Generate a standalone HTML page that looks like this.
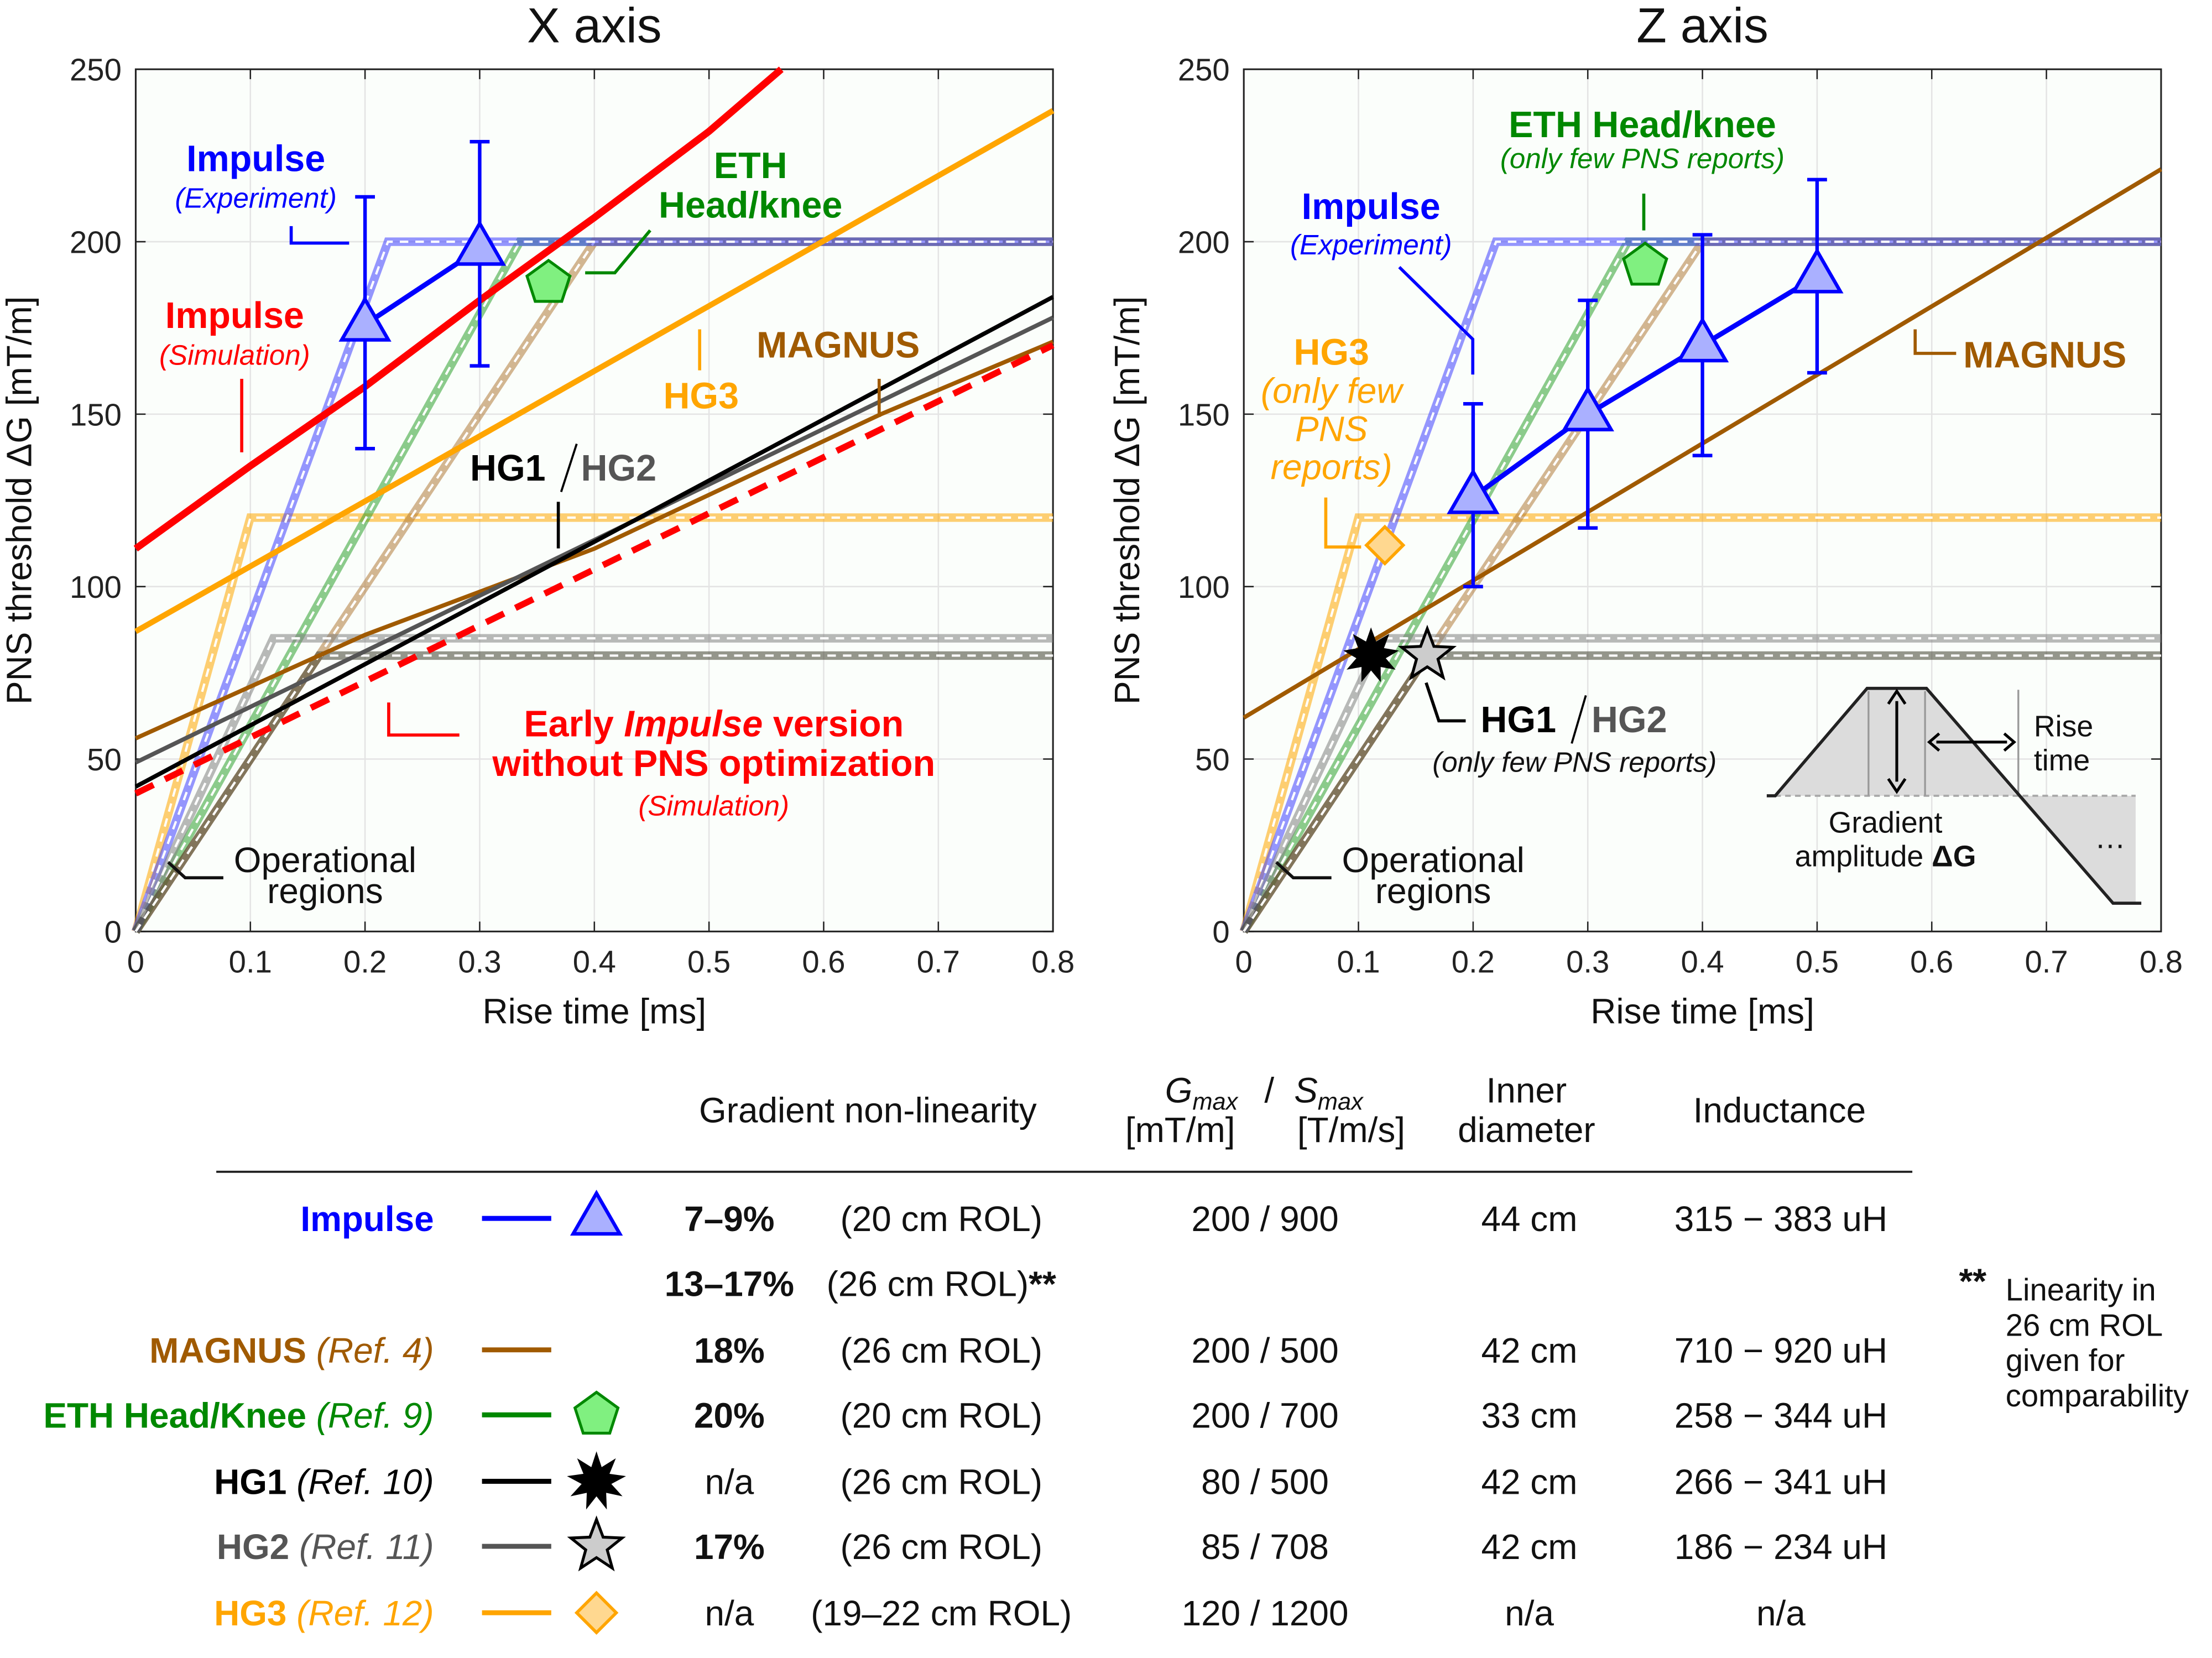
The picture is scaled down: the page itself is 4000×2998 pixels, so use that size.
<!DOCTYPE html>
<html><head><meta charset="utf-8"><title>PNS threshold chart</title>
<style>
html,body{margin:0;padding:0;background:#fff;}
svg{display:block;font-family:"Liberation Sans",Arial,sans-serif;}
</style></head>
<body>
<svg id="chart" xmlns="http://www.w3.org/2000/svg" width="4000" height="2998" viewBox="0 0 1565 1173">
<rect x="0" y="0" width="1565" height="1173" fill="#fff"/>
</svg>
<script>
// ---------- data ----------
const xTicks = [0, 0.1, 0.2, 0.3, 0.4, 0.5, 0.6, 0.7, 0.8];
const xTickLabels = ["0", "0.1", "0.2", "0.3", "0.4", "0.5", "0.6", "0.7", "0.8"];
const yTicks = [0, 50, 100, 150, 200, 250];
const yTickLabels = ["0", "50", "100", "150", "200", "250"];

// operational regions: [rise time to plateau, plateau amplitude]
const opNames = ["HG3", "ETH", "MAGNUS", "Impulse", "HG2", "HG1"];
const opRise = [0.1, 0.335, 0.4, 0.22, 0.12, 0.16];
const opAmp = [120, 200, 200, 200, 85, 80];

// X axis curves (rise time, threshold)
const xImpulseSimT = [0, 0.1, 0.2, 0.3, 0.4, 0.5, 0.563];
const xImpulseSimG = [111, 135, 158, 183, 207, 232, 250];
const xHG3T = [0, 0.8];
const xHG3G = [87, 238];
const xMagnusT = [0, 0.2, 0.4, 0.65, 0.8];
const xMagnusG = [56, 86, 111, 150, 171];
const xHG2T = [0, 0.8];
const xHG2G = [49, 178];
const xHG1T = [0, 0.8];
const xHG1G = [42, 184];
const xEarlyT = [0, 0.8];
const xEarlyG = [40, 170];
const xExpT = [0.2, 0.3];
const xExpG = [176, 198];
const xExpLo = [140, 164];
const xExpHi = [213, 229];
const xEthPoint = [0.36, 188];

// Z axis
const zMagnusT = [0, 0.8];
const zMagnusG = [62, 221];
const zExpT = [0.2, 0.3, 0.4, 0.5];
const zExpG = [126, 150, 170, 190];
const zExpLo = [100, 117, 138, 162];
const zExpHi = [153, 183, 202, 218];
const zEthPoint = [0.35, 193];
const zHG3Point = [0.123, 112];
const zHG1Point = [0.111, 80];
const zHG2Point = [0.16, 80];

// ---------- helpers ----------
const NS = "http://www.w3.org/2000/svg";
const svg = document.getElementById("chart");
function el(tag, attrs, parent, text) {
  const e = document.createElementNS(NS, tag);
  for (const k in attrs) e.setAttribute(k, attrs[k]);
  if (text !== undefined) e.textContent = text;
  (parent || svg).appendChild(e);
  return e;
}
const PY0 = 659, PYS = 2.44, PW = 649;
function mkAxes(x0) {
  return { px: t => x0 + t / 0.8 * PW, py: g => PY0 - g * PYS };
}
const colors = { HG3: "#ffa500", Impulse: "#4040ff", ETH: "#30a030", MAGNUS: "#b07a3a", HG2: "#808080", HG1: "#404030" };

function drawPanel(x0, title, panelName) {
  const ax = mkAxes(x0);
  const g = el("g", {}, svg);
  
  
  const bg = el("rect", { x: x0, y: ax.py(250), width: PW, height: 250 * PYS, fill: "#fbfefb" }, g);
  
  
  xTicks.forEach((t, i) => {
    const gl = el("line", { x1: ax.px(t), x2: ax.px(t), y1: ax.py(0), y2: ax.py(250), stroke: "#e4e4e4", "stroke-width": 1 }, g);
    
    
    el("line", { x1: ax.px(t), x2: ax.px(t), y1: ax.py(0), y2: ax.py(0) - 7, stroke: "#222", "stroke-width": 1 }, g);
    el("line", { x1: ax.px(t), x2: ax.px(t), y1: ax.py(250), y2: ax.py(250) + 7, stroke: "#222", "stroke-width": 1 }, g);
    const tl = el("text", { x: ax.px(t), y: 688, "font-size": 22, "text-anchor": "middle", fill: "#222" }, g, xTickLabels[i]);
    
    
  });
  yTicks.forEach((v, i) => {
    const gl = el("line", { x1: x0, x2: x0 + PW, y1: ax.py(v), y2: ax.py(v), stroke: "#e4e4e4", "stroke-width": 1 }, g);
    
    
    el("line", { x1: x0, x2: x0 + 7, y1: ax.py(v), y2: ax.py(v), stroke: "#222" }, g);
    el("line", { x1: x0 + PW, x2: x0 + PW - 7, y1: ax.py(v), y2: ax.py(v), stroke: "#222" }, g);
    const tl = el("text", { x: x0 - 10, y: ax.py(v) + 8, "font-size": 22, "text-anchor": "end", fill: "#222" }, g, yTickLabels[i]);
    
    
  });
  const fr = el("rect", { x: x0, y: ax.py(250), width: PW, height: 250 * PYS, fill: "none", stroke: "#222", "stroke-width": 1.2 }, g);
  
  
  const tt = el("text", { x: x0 + PW / 2, y: 30, "font-size": 35, "text-anchor": "middle", fill: "#111" }, g, title);
  
  
  const xl = el("text", { x: x0 + PW / 2, y: 724, "font-size": 25, "text-anchor": "middle", fill: "#111" }, g, "Rise time [ms]");
  
  
  const yl = el("text", { x: 0, y: 0, "font-size": 25, "text-anchor": "middle", fill: "#111", transform: `translate(${x0 - 74},${ax.py(125)}) rotate(-90)` }, g, "PNS threshold ΔG [mT/m]");
  
  
  // operational regions
  opNames.forEach((n, i) => {
    const pts = `${ax.px(0)},${ax.py(0)} ${ax.px(opRise[i])},${ax.py(opAmp[i])} ${ax.px(0.8)},${ax.py(opAmp[i])}`;
    const o = el("polyline", { points: pts, fill: "none", stroke: colors[n], "stroke-width": 6, "stroke-opacity": 0.55 }, g);
    
    
    el("polyline", { points: pts, fill: "none", stroke: "#fff", "stroke-width": 1.6, "stroke-dasharray": "6 5" }, g);
  });
  return { ax, g };
}
function line(ax, g, ts, gs, color, w, name, dash) {
  const pts = ts.map((t, i) => ax.px(t) + "," + ax.py(gs[i])).join(" ");
  const a = { points: pts, fill: "none", stroke: color, "stroke-width": w, "stroke-linejoin": "round" };
  if (dash) a["stroke-dasharray"] = dash;
  const p = el("polyline", a, g);
  
  
  return p;
}
function triangle(cx, cy, s, parent, name) {
  const h = s * 0.87;
  const p = el("polygon", { points: `${cx},${cy - h * 0.62} ${cx - s / 2},${cy + h * 0.38} ${cx + s / 2},${cy + h * 0.38}`, fill: "#aab0ff", stroke: "#0000ff", "stroke-width": 2.5, "stroke-linejoin": "miter" }, parent);
  
  
}
function pentagon(cx, cy, r, parent, name) {
  const pts = [];
  for (let k = 0; k < 5; k++) { const a = -Math.PI / 2 + k * 2 * Math.PI / 5; pts.push((cx + r * Math.cos(a)) + "," + (cy + r * Math.sin(a))); }
  const p = el("polygon", { points: pts.join(" "), fill: "#80f080", stroke: "#008800", "stroke-width": 2 }, parent);
  
  
}
function diamond(cx, cy, r, parent, name) {
  const p = el("polygon", { points: `${cx},${cy - r} ${cx + r},${cy} ${cx},${cy + r} ${cx - r},${cy}`, fill: "#ffd890", stroke: "#ffa500", "stroke-width": 2.2 }, parent);
  
  
}
function star(cx, cy, ro, ri, n, fill, parent, name) {
  const pts = [];
  for (let k = 0; k < 2 * n; k++) { const r = k % 2 ? ri : ro; const a = -Math.PI / 2 + k * Math.PI / n; pts.push((cx + r * Math.cos(a)).toFixed(1) + "," + (cy + r * Math.sin(a)).toFixed(1)); }
  const p = el("polygon", { points: pts.join(" "), fill: fill, stroke: "#000", "stroke-width": 2 }, parent);
  
  
}
function errbars(ax, g, ts, lo, hi) {
  ts.forEach((t, i) => {
    const x = ax.px(t);
    const e = el("path", { d: `M${x},${ax.py(lo[i])}V${ax.py(hi[i])}M${x - 7},${ax.py(lo[i])}H${x + 7}M${x - 7},${ax.py(hi[i])}H${x + 7}`, stroke: "#0000ff", "stroke-width": 2.5, fill: "none" }, g);
    
    
  });
}
function txt(x, y, s, size, color, opts, parent, name) {
  const a = Object.assign({ x: x, y: y, "font-size": size, fill: color, "text-anchor": "middle" }, opts || {});
  const t = el("text", a, parent || svg, s);
  
  
  return t;
}
function lead(d, color, parent, w) {
  const p = el("path", { d: d, stroke: color, "stroke-width": w || 2.2, fill: "none" }, parent || svg);
  
  
}

// ---------- X panel ----------
const L = drawPanel(96, "X axis", "x-axis-panel");
line(L.ax, L.g, xMagnusT, xMagnusG, "#a05a00", 3, "magnus-line");
line(L.ax, L.g, xHG2T, xHG2G, "#555", 3, "hg2-line");
line(L.ax, L.g, xHG1T, xHG1G, "#000", 3, "hg1-line");
line(L.ax, L.g, xEarlyT, xEarlyG, "#ff0000", 4.5, "early-impulse-line", "14 9");
line(L.ax, L.g, xHG3T, xHG3G, "#ffa500", 4, "hg3-line");
line(L.ax, L.g, xImpulseSimT, xImpulseSimG, "#ff0000", 5, "impulse-simulation-line");
line(L.ax, L.g, xExpT, xExpG, "#0000ff", 3.5, "impulse-experiment-line");
errbars(L.ax, L.g, xExpT, xExpLo, xExpHi);
xExpT.forEach((t, i) => triangle(L.ax.px(t), L.ax.py(xExpG[i]), 33, L.g, "impulse-experiment-point"));
pentagon(L.ax.px(xEthPoint[0]), L.ax.py(xEthPoint[1]), 16, L.g, "eth-point");

txt(181, 121, "Impulse", 26, "#0000ff", { "font-weight": "bold" }, L.g, "impulse-experiment-label");
txt(181, 147, "(Experiment)", 20, "#0000ff", { "font-style": "italic" }, L.g, "impulse-experiment-sublabel");
lead("M206,160V172H247", "#0000ff", L.g);
txt(166, 232, "Impulse", 26, "#ff0000", { "font-weight": "bold" }, L.g, "impulse-simulation-label");
txt(166, 258, "(Simulation)", 20, "#ff0000", { "font-style": "italic" }, L.g, "impulse-simulation-sublabel");
lead("M171,268V320", "#ff0000", L.g);
txt(531, 126, "ETH", 26, "#008800", { "font-weight": "bold" }, L.g, "eth-label");
txt(531, 154, "Head/knee", 26, "#008800", { "font-weight": "bold" }, L.g, "eth-sublabel");
lead("M460,163L435,193H414", "#008800", L.g);
txt(593, 253, "MAGNUS", 26, "#a05a00", { "font-weight": "bold" }, L.g, "magnus-label");
lead("M622,268V295", "#a05a00", L.g);
txt(496, 289, "HG3", 26, "#ffa500", { "font-weight": "bold" }, L.g, "hg3-label");
lead("M495,233V262", "#ffa500", L.g);
txt(386, 340, "HG1", 26, "#000", { "font-weight": "bold", "text-anchor": "end" }, L.g, "hg1-label");
txt(411, 340, "HG2", 26, "#555", { "font-weight": "bold", "text-anchor": "start" }, L.g, "hg2-label");
lead("M408,314L397,348", "#000", L.g, 1.5);
lead("M395,355V388", "#000", L.g);
txt(505, 521, "Early ", 26, "#ff0000", { "font-weight": "bold" }, L.g, "early-impulse-label").innerHTML = 'Early <tspan font-style="italic">Impulse</tspan> version';
txt(505, 549, "without PNS optimization", 26, "#ff0000", { "font-weight": "bold" }, L.g, "early-impulse-label-2");
txt(505, 577, "(Simulation)", 20, "#ff0000", { "font-style": "italic" }, L.g, "early-impulse-sublabel");
lead("M275,497V520H325", "#ff0000", L.g);
txt(230, 617, "Operational", 25, "#111", {}, L.g, "operational-regions-label");
txt(230, 639, "regions", 25, "#111", {}, L.g, "operational-regions-label-2");
lead("M119,610L131,621H158", "#111", L.g);

// ---------- Z panel ----------
const R = drawPanel(880, "Z axis", "z-axis-panel");
line(R.ax, R.g, zMagnusT, zMagnusG, "#a05a00", 3, "magnus-line");
line(R.ax, R.g, zExpT, zExpG, "#0000ff", 3.5, "impulse-experiment-line");
errbars(R.ax, R.g, zExpT, zExpLo, zExpHi);
zExpT.forEach((t, i) => triangle(R.ax.px(t), R.ax.py(zExpG[i]), 33, R.g, "impulse-experiment-point"));
pentagon(R.ax.px(zEthPoint[0]), R.ax.py(zEthPoint[1]), 16, R.g, "eth-point");
diamond(R.ax.px(zHG3Point[0]), R.ax.py(zHG3Point[1]), 13, R.g, "hg3-point");
star(R.ax.px(zHG1Point[0]), R.ax.py(zHG1Point[1]), 17, 9, 9, "#000", R.g, "hg1-point");
star(R.ax.px(zHG2Point[0]), R.ax.py(zHG2Point[1]), 19, 8, 5, "#ccc", R.g, "hg2-point");

txt(970, 155, "Impulse", 26, "#0000ff", { "font-weight": "bold" }, R.g, "impulse-experiment-label");
txt(970, 180, "(Experiment)", 20, "#0000ff", { "font-style": "italic" }, R.g, "impulse-experiment-sublabel");
lead("M990,189L1042,240V265", "#0000ff", R.g);
txt(1162, 97, "ETH Head/knee", 26, "#008800", { "font-weight": "bold" }, R.g, "eth-label");
txt(1162, 119, "(only few PNS reports)", 20, "#008800", { "font-style": "italic" }, R.g, "eth-sublabel");
lead("M1163,137V163", "#008800", R.g);
txt(942, 258, "HG3", 26, "#ffa500", { "font-weight": "bold" }, R.g, "hg3-label");
txt(942, 285, "(only few", 25, "#ffa500", { "font-style": "italic" }, R.g, "hg3-sublabel-1");
txt(942, 312, "PNS", 25, "#ffa500", { "font-style": "italic" }, R.g, "hg3-sublabel-2");
txt(942, 339, "reports)", 25, "#ffa500", { "font-style": "italic" }, R.g, "hg3-sublabel-3");
lead("M938,352V387H963", "#ffa500", R.g);
txt(1389, 260, "MAGNUS", 26, "#a05a00", { "font-weight": "bold", "text-anchor": "start" }, R.g, "magnus-label");
lead("M1355,233V250H1384", "#a05a00", R.g);
txt(1101, 518, "HG1", 26, "#000", { "font-weight": "bold", "text-anchor": "end" }, R.g, "hg1-label");
txt(1126, 518, "HG2", 26, "#555", { "font-weight": "bold", "text-anchor": "start" }, R.g, "hg2-label");
lead("M1122,492L1112,526", "#000", R.g, 1.5);
txt(1114, 546, "(only few PNS reports)", 20, "#111", { "font-style": "italic" }, R.g, "hg-sublabel");
lead("M1009,483L1018,510H1037", "#000", R.g);
txt(1014, 617, "Operational", 25, "#111", {}, R.g, "operational-regions-label");
txt(1014, 639, "regions", 25, "#111", {}, R.g, "operational-regions-label-2");
lead("M903,610L915,621H942", "#111", R.g);

// inset trapezoid
const inset = el("g", {}, R.g);


el("polygon", { points: "1256,563 1321,487 1363,487 1427,563", fill: "#dcdcdc" }, inset);
el("polygon", { points: "1427,563 1511,563 1511,639 1495,639", fill: "#dcdcdc" }, inset);
el("line", { x1: 1256, y1: 563, x2: 1511, y2: 563, stroke: "#aaa", "stroke-width": 1.5, "stroke-dasharray": "4 3" }, inset);
el("line", { x1: 1322, y1: 489, x2: 1322, y2: 563, stroke: "#999", "stroke-width": 1.3 }, inset);
el("line", { x1: 1362, y1: 489, x2: 1362, y2: 563, stroke: "#999", "stroke-width": 1.3 }, inset);
el("line", { x1: 1428, y1: 488, x2: 1428, y2: 563, stroke: "#999", "stroke-width": 1.3 }, inset);
el("polyline", { points: "1250,563 1256,563 1321,487 1363,487 1495,639 1515,639", fill: "none", stroke: "#222", "stroke-width": 2.2 }, inset);
el("path", { d: "M1342,496V553M1336,498L1342,489L1348,498M1336,551L1342,560L1348,551", stroke: "#000", "stroke-width": 2, fill: "none" }, inset);
el("path", { d: "M1370,525H1420M1372,519L1365,525L1372,531M1418,519L1425,525L1418,531", stroke: "#000", "stroke-width": 2, fill: "none" }, inset);
txt(1439, 521, "Rise", 21, "#111", { "text-anchor": "start" }, inset, "rise-time-label");
txt(1439, 545, "time", 21, "#111", { "text-anchor": "start" }, inset, "rise-time-label-2");
txt(1334, 589, "Gradient", 21, "#111", {}, inset, "gradient-amplitude-label");
txt(1334, 613, "amplitude ", 21, "#111", {}, inset, "gradient-amplitude-label-2").innerHTML = 'amplitude <tspan font-weight="bold">ΔG</tspan>';
txt(1493, 600, "…", 22, "#111", {}, inset, "ellipsis");

// ---------- table ----------
const tb = el("g", {}, svg);


txt(614, 794, "Gradient non-linearity", 25, "#111", {}, tb, "header-nonlinearity");
txt(850, 780, "", 25, "#111", {}, tb, "header-gmax").innerHTML = '<tspan font-style="italic">G</tspan><tspan font-style="italic" font-size="17" dy="5">max</tspan>';
txt(898, 780, "/", 25, "#111", {}, tb, "header-slash");
txt(940, 780, "", 25, "#111", {}, tb, "header-smax").innerHTML = '<tspan font-style="italic">S</tspan><tspan font-style="italic" font-size="17" dy="5">max</tspan>';
txt(835, 808, "[mT/m]", 25, "#111", {}, tb, "header-gmax-unit");
txt(956, 808, "[T/m/s]", 25, "#111", {}, tb, "header-smax-unit");
txt(1080, 780, "Inner", 25, "#111", {}, tb, "header-diameter");
txt(1080, 808, "diameter", 25, "#111", {}, tb, "header-diameter-2");
txt(1259, 794, "Inductance", 25, "#111", {}, tb, "header-inductance");
el("line", { x1: 153, y1: 829, x2: 1353, y2: 829, stroke: "#222", "stroke-width": 1.5 }, tb);

const rowY = [862, 955, 1001, 1048, 1094, 1141];
const rowName = ["Impulse", "MAGNUS", "ETH Head/Knee", "HG1", "HG2", "HG3"];
const rowRef = ["", "(Ref. 4)", "(Ref. 9)", "(Ref. 10)", "(Ref. 11)", "(Ref. 12)"];
const rowColor = ["#0000ff", "#a05a00", "#008800", "#000", "#555", "#ffa500"];
const rowNL = ["7–9%", "18%", "20%", "n/a", "17%", "n/a"];
const rowROL = ["(20 cm ROL)", "(26 cm ROL)", "(20 cm ROL)", "(26 cm ROL)", "(26 cm ROL)", "(19–22 cm ROL)"];
const rowGS = ["200 / 900", "200 / 500", "200 / 700", "80 / 500", "85 / 708", "120 / 1200"];
const rowDia = ["44 cm", "42 cm", "33 cm", "42 cm", "42 cm", "n/a"];
const rowInd = ["315 − 383 uH", "710 − 920 uH", "258 − 344 uH", "266 − 341 uH", "186 − 234 uH", "n/a"];
rowY.forEach((y, i) => {
  const t = txt(307, y + 9, "", 25, rowColor[i], { "text-anchor": "end" }, tb, "row-name");
  t.innerHTML = `<tspan font-weight="bold">${rowName[i]}</tspan>` + (rowRef[i] ? ` <tspan font-style="italic">${rowRef[i]}</tspan>` : "");
  const ln = el("line", { x1: 341, x2: 390, y1: y, y2: y, stroke: rowColor[i], "stroke-width": 3.5 }, tb);
  
  
  txt(516, y + 9, rowNL[i], 25, "#111", { "font-weight": rowNL[i] === "n/a" ? "normal" : "bold" }, tb, "row-nonlinearity");
  txt(666, y + 9, rowROL[i], 25, "#111", {}, tb, "row-rol");
  txt(895, y + 9, rowGS[i], 25, "#111", {}, tb, "row-gmax-smax");
  txt(1082, y + 9, rowDia[i], 25, "#111", {}, tb, "row-diameter");
  txt(1260, y + 9, rowInd[i], 25, "#111", {}, tb, "row-inductance");
});
triangle(422, 862, 33, tb, "legend-impulse-marker");
pentagon(422, 1001, 16, tb, "legend-eth-marker");
star(422, 1048, 18, 9, 9, "#000", tb, "legend-hg1-marker");
star(422, 1094, 19, 8, 5, "#ccc", tb, "legend-hg2-marker");
diamond(422, 1141, 14, tb, "legend-hg3-marker");
txt(516, 917, "13–17%", 25, "#111", { "font-weight": "bold" }, tb, "row-impulse-nonlinearity-26");
txt(666, 917, "(26 cm ROL)**", 25, "#111", {}, tb, "row-impulse-rol-26").innerHTML = '(26 cm ROL)<tspan font-weight="bold">**</tspan>';
txt(1386, 915, "**", 25, "#111", { "text-anchor": "start", "font-weight": "bold" }, tb, "footnote-mark");
txt(1419, 920, "Linearity in", 22, "#111", { "text-anchor": "start" }, tb, "footnote-1");
txt(1419, 945, "26 cm ROL", 22, "#111", { "text-anchor": "start" }, tb, "footnote-2");
txt(1419, 970, "given for", 22, "#111", { "text-anchor": "start" }, tb, "footnote-3");
txt(1419, 995, "comparability", 22, "#111", { "text-anchor": "start" }, tb, "footnote-4");
</script>
</body></html>
